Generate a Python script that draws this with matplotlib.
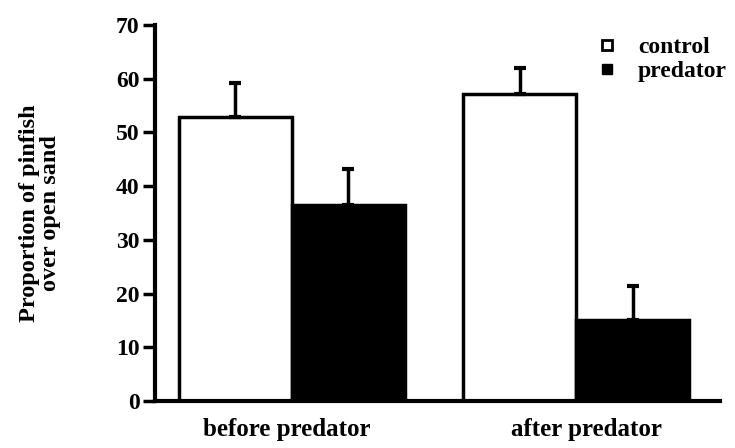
import numpy as np
import matplotlib.pyplot as plt

plt.rcParams['font.family'] = ['Liberation Serif', 'DejaVu Serif']
plt.rcParams['font.weight'] = 'bold'

groups = ["before predator", "after predator"]
control = [52.9, 57.2]
control_err = [6.3, 4.8]
predator = [36.5, 15.1]
predator_err = [6.7, 6.3]

x = np.array([0.0, 2.52])
width = 1.0

fig = plt.figure(figsize=(7.35, 4.48), dpi=100)
ax = fig.add_axes([155 / 735, 47 / 448, 565 / 735, 376 / 448])

err_kw = dict(ecolor="black", elinewidth=2.5, capsize=4.5, capthick=3)
ax.bar(x - width / 2, control, width, color="white", edgecolor="black", linewidth=2.5,
       yerr=[np.zeros(2), control_err], error_kw=err_kw, zorder=2)
ax.bar(x + width / 2, predator, width, color="black", edgecolor="black", linewidth=2.5,
       yerr=[np.zeros(2), predator_err], error_kw=err_kw, zorder=2)

ax.set_xlim(-1.21, 3.79)
ax.set_ylim(0, 70)
ax.set_yticks(np.arange(0, 71, 10))
ax.set_xticks(x + np.array([-0.04, 0.09]))
ax.set_xticklabels(groups, fontsize=18, fontweight="bold")
ax.tick_params(axis="x", length=0, pad=12)
ax.tick_params(axis="y", length=9, width=2.5, labelsize=17, pad=2)

for side in ["top", "right"]:
    ax.spines[side].set_visible(False)
ax.spines["left"].set_linewidth(3)
ax.spines["bottom"].set_linewidth(3)

ax.set_ylabel("Proportion of pinfish\nover open sand", fontsize=17.5, fontweight="bold",
              labelpad=40, linespacing=1.0)

h1, = ax.plot([], [], "s", markerfacecolor="white", markeredgecolor="black", markeredgewidth=2, markersize=7)
h2, = ax.plot([], [], "s", color="black", markersize=7)
ax.legend([h1, h2], ["control", "predator"], loc="upper right", bbox_to_anchor=(1.05, 1.025),
          frameon=False, handlelength=1, handletextpad=0.8, labelspacing=0.1,
          prop={"weight": "bold", "size": 17})

fig.savefig("out.png", dpi=100)
